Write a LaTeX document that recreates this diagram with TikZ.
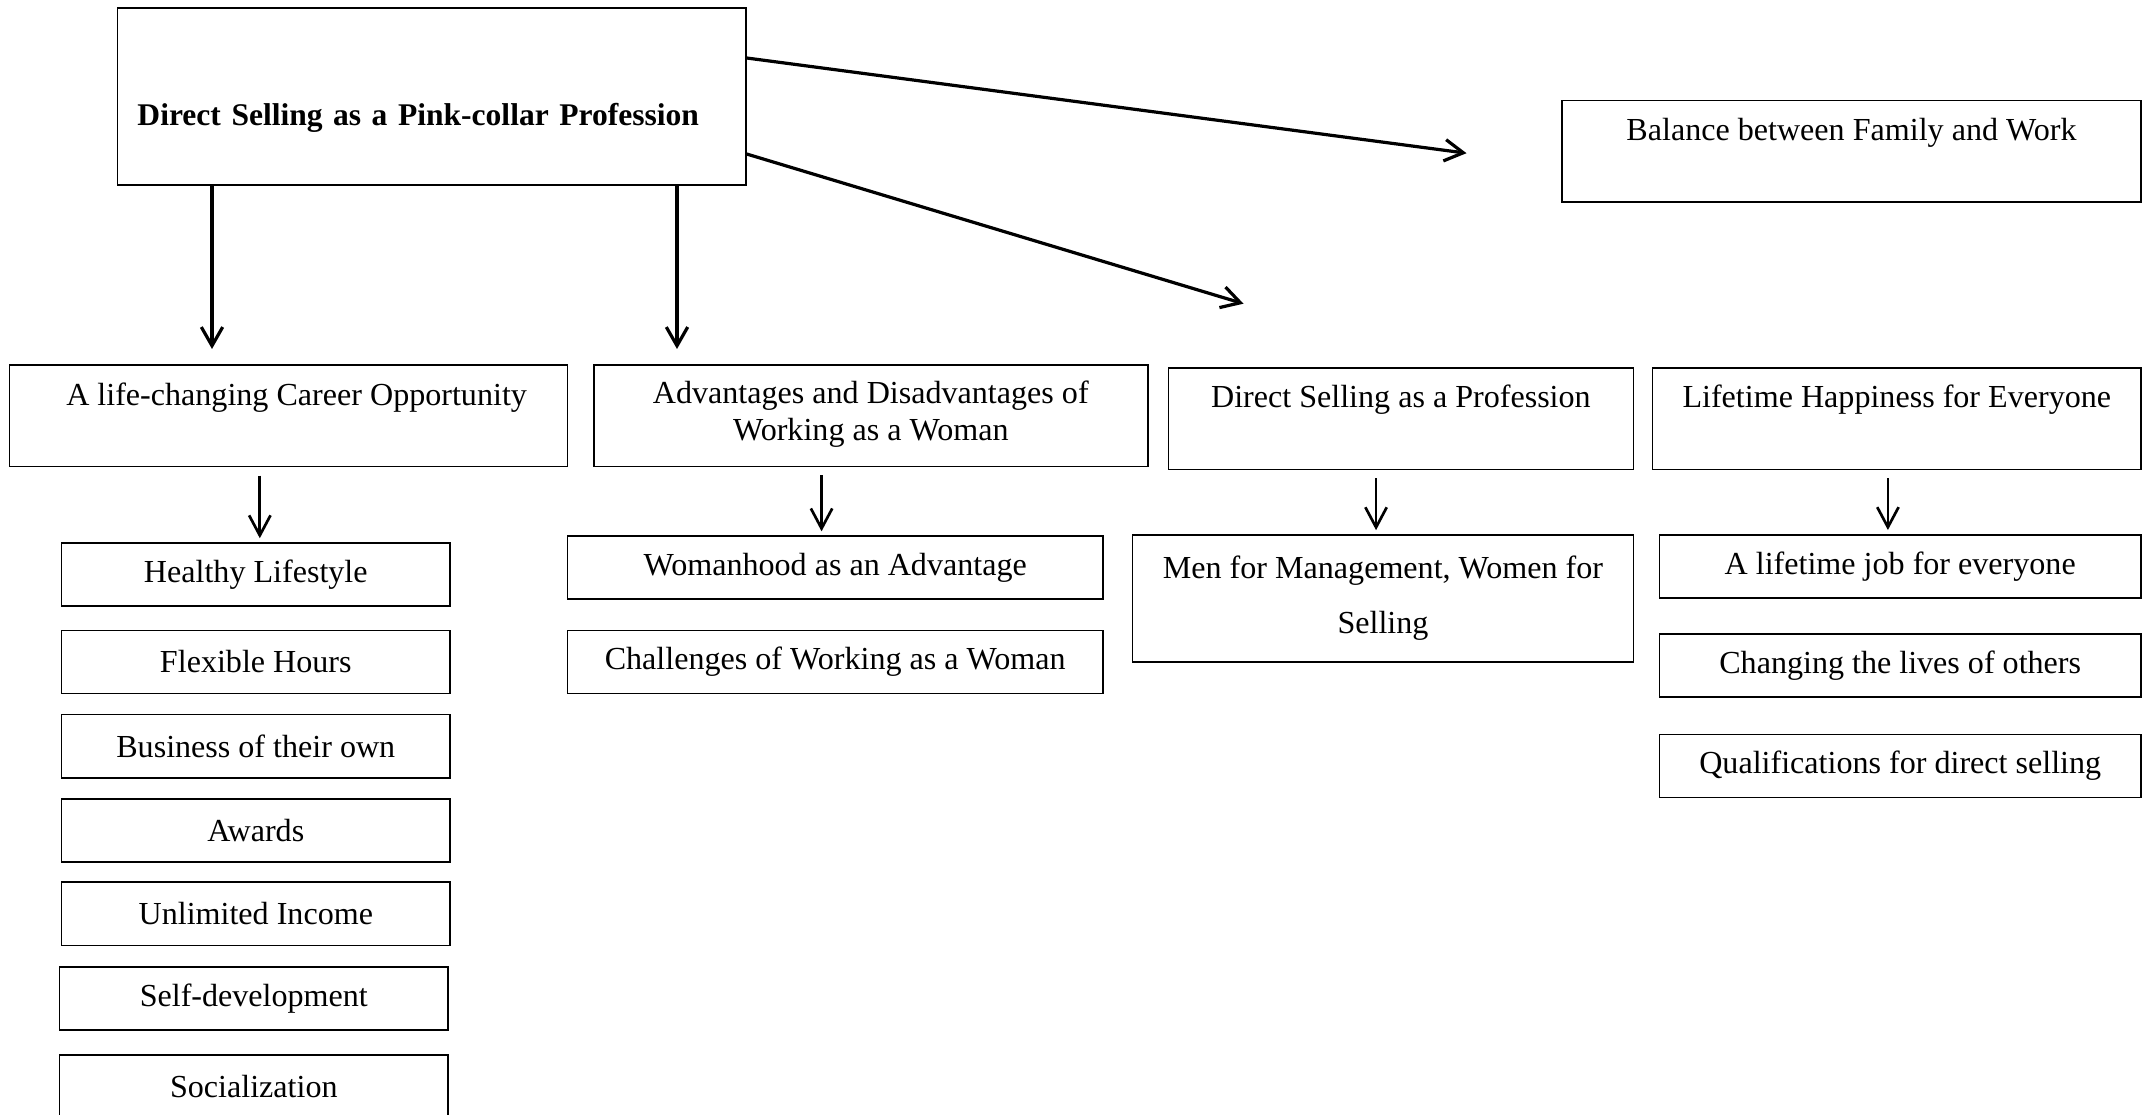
\documentclass[tikz,border=0pt]{standalone}
\usepackage{fontspec}
\setmainfont{Liberation Serif}
\usetikzlibrary{arrows.meta,positioning,calc}
\tikzset{head/.style={draw, line width=0.6pt, inner xsep=2pt, inner ysep=0pt,
             minimum width=#1, align=center, text height=15pt, text depth=23pt},
         leaf/.style={draw, line width=0.6pt, minimum width=#1, minimum height=23.6pt,
             inner sep=0pt, align=center},
         trunk/.style={line width=1.2pt, -{Straight Barb[length=7pt,width=8pt]}},
         twig/.style={line width=1pt, -{Straight Barb[length=7.5pt,width=8pt]},
             shorten <=3pt, shorten >=1.5pt}}

\begin{document}
\begin{tikzpicture}[x=0.374pt, y=-0.374pt, font=\fontsize{12}{13.8}\selectfont]
  \useasboundingbox (0,0) rectangle (2145,1115);
  \node[draw, line width=0.6pt, text width=220pt, inner xsep=7.5pt, inner ysep=0pt, align=left,
        text height=44pt, text depth=22pt, font=\fontsize{11.8}{13.8}\selectfont\bfseries]
        (main) at (431.6,96.5) {Direct Selling as a Pink-collar Profession};
  \node[head=216.5pt] (balance)    at (1851.5,151.2) {Balance between Family and Work};
  \node[head=208.7pt, xshift=0pt] (career) at ( 288.6,415.9) {\hspace*{6pt}A life-changing Career Opportunity};
  \node[head=207.2pt, text height=28.2pt, text depth=9.7pt]
        (woman)      at ( 870.8,415.9) {Advantages and Disadvantages of\\Working as a Woman};
  \node[head=173.9pt] (profession) at (1400.9,418.6) {Direct Selling as a Profession};
  \node[head=182.7pt] (happiness)  at (1896.8,418.6) {Lifetime Happiness for Everyone};

  \node[leaf=145.3pt] (healthy)  at (255.8, 574.6) {Healthy Lifestyle};
  \node[leaf=145.3pt] (flexible) at (255.8, 662.0) {Flexible Hours};
  \node[leaf=145.3pt] (business) at (255.8, 746.2) {Business of their own};
  \node[leaf=145.3pt] (awards)   at (255.8, 830.4) {Awards};
  \node[leaf=145.3pt] (income)   at (255.8, 913.8) {Unlimited Income};
  \node[leaf=145.3pt] (selfdev)  at (253.8, 998.6) {Self-development};
  \node[leaf=145.3pt] (social)   at (253.8,1086.5) {Socialization};

  \node[leaf=200.1pt] (womanhood)  at (835.2,567.7) {Womanhood as an Advantage};
  \node[leaf=200.1pt] (challenges) at (835.2,662.1) {Challenges of Working as a Woman};

  \node[leaf=187.3pt, minimum height=47.5pt, font=\fontsize{12}{20.5}\selectfont]
        (menwomen) at (1383,598.5) {Men for Management, Women for\\Selling};

  \node[leaf=180.1pt] (lifejob)  at (1900.2,566.4) {A lifetime job for everyone};
  \node[leaf=180.1pt] (changing) at (1900.2,665.5) {Changing the lives of others};
  \node[leaf=180.1pt] (qualify)  at (1900.2,766.1) {Qualifications for direct selling};

  \coordinate (tipcareer)  at (212,349);
  \coordinate (tipwoman)   at (677,349);
  \coordinate (tipbalance) at (1466.5,153.2);
  \coordinate (tipprof)    at (1243.5,303.7);

  \draw[trunk] (main.south -| tipcareer) -- (tipcareer);
  \draw[trunk] (main.south -| tipwoman) -- (tipwoman);
  \draw[trunk] ([yshift=-18.9pt]main.north east) -- (tipbalance);
  \draw[trunk] ([yshift=11.8pt]main.south east) -- (tipprof);

  \draw[twig] ([xshift=1.5pt]career.south -| healthy.north) -- ([xshift=1.5pt]healthy.north);
  \draw[twig] ([xshift=-5.1pt]woman.south -| womanhood.north) -- ([xshift=-5.1pt]womanhood.north);
  \draw[twig] ([xshift=-2.6pt]profession.south -| menwomen.north) -- ([xshift=-2.6pt]menwomen.north);
  \draw[twig] ([xshift=-4.6pt]happiness.south -| lifejob.north) -- ([xshift=-4.6pt]lifejob.north);
\end{tikzpicture}
\end{document}
